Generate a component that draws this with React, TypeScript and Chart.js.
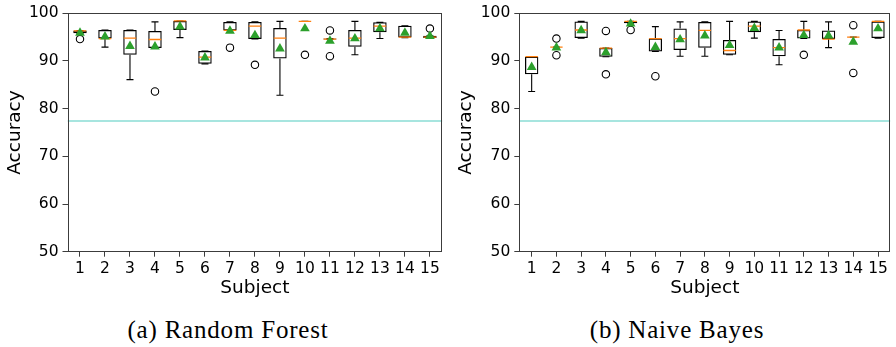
import React, { useEffect, useRef } from "react";
import { Chart, registerables } from "chart.js";
Chart.register(...registerables);

const subjects = [1, 2, 3, 4, 5, 6, 7, 8, 9, 10, 11, 12, 13, 14, 15];
const yTicks = [50, 60, 70, 80, 90, 100];
const chanceLevel = 77.4;

// Random Forest
const rfQ1 = [95.8, 94.7, 91.3, 92.7, 96.5, 89.4, 96.4, 94.6, 90.5, 98.3, 94.5, 93.0, 96.0, 94.9, 94.8];
const rfMed = [96.3, 94.7, 94.8, 94.5, 98.4, 90.8, 96.4, 97.3, 94.8, 98.3, 94.6, 94.8, 97.3, 95.0, 95.0];
const rfQ3 = [96.4, 96.5, 96.5, 96.3, 98.4, 92.1, 98.2, 98.2, 96.9, 98.3, 94.7, 96.5, 98.1, 97.4, 95.3];
const rfLo = [95.8, 92.9, 86.1, 92.7, 94.9, 89.4, 96.4, 94.6, 82.8, 98.3, 94.5, 91.3, 94.7, 94.9, 94.8];
const rfHi = [96.4, 96.5, 96.5, 98.2, 98.4, 92.1, 98.2, 98.2, 98.3, 98.3, 94.7, 98.3, 98.1, 97.4, 95.3];
const rfMean = [95.9, 95.1, 93.1, 93.0, 97.2, 90.7, 96.3, 95.4, 92.6, 96.8, 94.2, 94.7, 96.8, 95.9, 95.2];
const rfOutliers = [[1, 94.6], [4, 83.6], [7, 92.8], [8, 89.2], [10, 91.3], [11, 96.4], [11, 91.0], [15, 96.8]];

// Naive Bayes
const nbQ1 = [87.2, 92.9, 94.8, 90.9, 97.9, 92.0, 92.3, 92.8, 91.3, 96.0, 91.0, 94.7, 94.6, 95.0, 94.8];
const nbMed = [90.9, 92.9, 96.5, 92.7, 98.3, 94.7, 94.7, 96.4, 92.2, 97.3, 92.8, 96.5, 94.6, 95.0, 98.3];
const nbQ3 = [90.9, 92.9, 98.3, 92.7, 98.3, 94.7, 96.8, 98.2, 94.4, 98.3, 94.6, 96.5, 96.4, 95.0, 98.3];
const nbLo = [83.6, 92.9, 94.8, 90.9, 97.9, 92.0, 91.0, 91.0, 91.3, 94.8, 89.2, 94.7, 92.8, 95.0, 94.8];
const nbHi = [90.9, 92.9, 98.3, 92.7, 98.3, 97.2, 98.2, 98.2, 98.3, 98.3, 96.4, 98.3, 98.2, 95.0, 98.3];
const nbMean = [88.7, 92.8, 96.4, 91.8, 97.8, 92.9, 94.5, 95.3, 93.3, 96.9, 92.8, 95.4, 95.3, 94.0, 96.8];
const nbOutliers = [[2, 94.7], [2, 91.2], [4, 96.3], [4, 87.2], [5, 96.5], [6, 86.8], [12, 91.3], [14, 97.5], [14, 87.5]];

const BOX_FRAC = 0.54;
const MED_HALF = 0.25;
const CAP_HALF = 0.14;
const AXIS_COLOR = "#3c3c3c";
const SANS = "DejaVu Sans";

const framePlugin = {
  id: "frame",
  afterDatasetsDraw(chart: any) {
    const { ctx, chartArea: a } = chart;
    ctx.save();
    ctx.strokeStyle = AXIS_COLOR;
    ctx.lineWidth = 1;
    const l = Math.round(a.left) + 0.5;
    const t = Math.round(a.top) + 0.5;
    const r = Math.round(a.right) - 0.5;
    const b = Math.round(a.bottom) - 0.5;
    ctx.strokeRect(l, t, r - l, b - t);
    ctx.restore();
  },
};

type PanelProps = {
  left: number;
  q1: number[];
  med: number[];
  q3: number[];
  lo: number[];
  hi: number[];
  mean: number[];
  outliers: number[][];
  yAxisWidth: number;
  yTitlePad: number;
  rightPad: number;
  caption: string;
  captionCenter: number;
};

function Panel(p: PanelProps) {
  const ref = useRef<HTMLCanvasElement>(null);
  useEffect(() => {
    const whiskers: any[] = [];
    const medians: any[] = [];
    subjects.forEach((s, i) => {
      whiskers.push({ x: s, y: p.q3[i] }, { x: s, y: p.hi[i] }, { x: s, y: null });
      whiskers.push({ x: s, y: p.q1[i] }, { x: s, y: p.lo[i] }, { x: s, y: null });
      whiskers.push({ x: s - CAP_HALF, y: p.hi[i] }, { x: s + CAP_HALF, y: p.hi[i] }, { x: s, y: null });
      whiskers.push({ x: s - CAP_HALF, y: p.lo[i] }, { x: s + CAP_HALF, y: p.lo[i] }, { x: s, y: null });
      medians.push({ x: s - MED_HALF, y: p.med[i] }, { x: s + MED_HALF, y: p.med[i] }, { x: s, y: null });
    });
    const chart = new Chart(ref.current!, {
      type: "bar",
      data: {
        datasets: [
          {
            type: "line",
            data: [
              { x: subjects[0] - 0.5, y: chanceLevel },
              { x: subjects[subjects.length - 1] + 0.5, y: chanceLevel },
            ],
            borderColor: "#8adcd4",
            borderWidth: 1.5,
            pointRadius: 0,
            order: 6,
          } as any,
          {
            type: "bar",
            data: subjects.map((s, i) => ({ x: s, y: [p.q1[i], p.q3[i]] })),
            backgroundColor: "rgba(255,255,255,0)",
            borderColor: "#000",
            borderWidth: 1.25,
            borderSkipped: false,
            barPercentage: BOX_FRAC,
            categoryPercentage: 1,
            order: 5,
          } as any,
          {
            type: "line",
            data: whiskers,
            borderColor: "#000",
            borderWidth: 1.1,
            pointRadius: 0,
            spanGaps: false,
            order: 4,
          } as any,
          {
            type: "line",
            data: medians,
            borderColor: "#ff7f0e",
            borderWidth: 1.3,
            pointRadius: 0,
            spanGaps: false,
            order: 3,
          } as any,
          {
            type: "scatter",
            data: p.outliers.map(([s, v]) => ({ x: s, y: v })),
            pointStyle: "circle",
            pointRadius: 3.7,
            borderColor: "#000",
            borderWidth: 1.1,
            backgroundColor: "rgba(255,255,255,0)",
            order: 2,
          } as any,
          {
            type: "scatter",
            data: subjects.map((s, i) => ({ x: s, y: p.mean[i] })),
            pointStyle: "triangle",
            pointRadius: 5.6,
            borderWidth: 0,
            borderColor: "#2ca02c",
            backgroundColor: "#2ca02c",
            order: 1,
          } as any,
        ],
      },
      options: {
        responsive: false,
        animation: false,
        devicePixelRatio: 1,
        events: [],
        layout: { padding: { top: 8, right: p.rightPad, left: 0, bottom: 0 } },
        plugins: { legend: { display: false }, tooltip: { enabled: false }, title: { display: false } },
        scales: {
          x: {
            type: "linear",
            min: subjects[0] - 0.5,
            max: subjects[subjects.length - 1] + 0.5,
            offset: false,
            afterBuildTicks: (s: any) => {
              s.ticks = subjects.map((v) => ({ value: v }));
            },
            afterFit: (s: any) => {
              s.height = 53.3;
            },
            ticks: {
              autoSkip: false,
              maxRotation: 0,
              padding: 3,
              color: "#000",
              font: { family: SANS, size: 15.5 },
              callback: (v: any) => String(v),
            },
            grid: { drawOnChartArea: false, drawTicks: true, tickLength: 5, color: AXIS_COLOR, offset: false },
            border: { display: false },
            title: {
              display: true,
              text: "Subject",
              color: "#000",
              font: { family: SANS, size: 18.5 },
              padding: { top: 0, bottom: 6 },
            },
          },
          y: {
            type: "linear",
            min: yTicks[0],
            max: yTicks[yTicks.length - 1],
            beginAtZero: false,
            afterBuildTicks: (s: any) => {
              s.ticks = yTicks.map((v) => ({ value: v }));
            },
            afterFit: (s: any) => {
              s.width = p.yAxisWidth;
            },
            ticks: { padding: 4, color: "#000", font: { family: SANS, size: 15.5 } },
            grid: { drawOnChartArea: false, drawTicks: true, tickLength: 5, color: AXIS_COLOR },
            border: { display: false },
            title: {
              display: true,
              text: "Accuracy",
              color: "#000",
              font: { family: SANS, size: 18.5 },
              padding: { top: p.yTitlePad, bottom: 0 },
            },
          },
        },
      } as any,
      plugins: [framePlugin],
    });
    return () => chart.destroy();
  }, []);
  return (
    <>
      <canvas
        ref={ref}
        width={448}
        height={305}
        style={{ position: "absolute", left: p.left, top: 0, width: 448, height: 305 }}
      />
      <div
        style={{
          position: "absolute",
          left: p.captionCenter - 160,
          width: 320,
          top: 317,
          textAlign: "center",
          fontFamily: "'Liberation Serif'",
          fontSize: 25,
          lineHeight: "25px",
          letterSpacing: "0.8px",
          color: "#000",
          whiteSpace: "nowrap",
        }}
      >
        {p.caption}
      </div>
    </>
  );
}

export default function App() {
  return (
    <div style={{ position: "absolute", left: 0, top: 0, width: 896, height: 347, background: "#fff", overflow: "hidden" }}>
      <Panel
        left={0}
        q1={rfQ1}
        med={rfMed}
        q3={rfQ3}
        lo={rfLo}
        hi={rfHi}
        mean={rfMean}
        outliers={rfOutliers}
        yAxisWidth={67.5}
        yTitlePad={4}
        rightPad={5}
        caption="(a) Random Forest"
        captionCenter={228}
      />
      <Panel
        left={448}
        q1={nbQ1}
        med={nbMed}
        q3={nbQ3}
        lo={nbLo}
        hi={nbHi}
        mean={nbMean}
        outliers={nbOutliers}
        yAxisWidth={71.3}
        yTitlePad={6.8}
        rightPad={2.7}
        caption="(b) Naive Bayes"
        captionCenter={677}
      />
    </div>
  );
}
